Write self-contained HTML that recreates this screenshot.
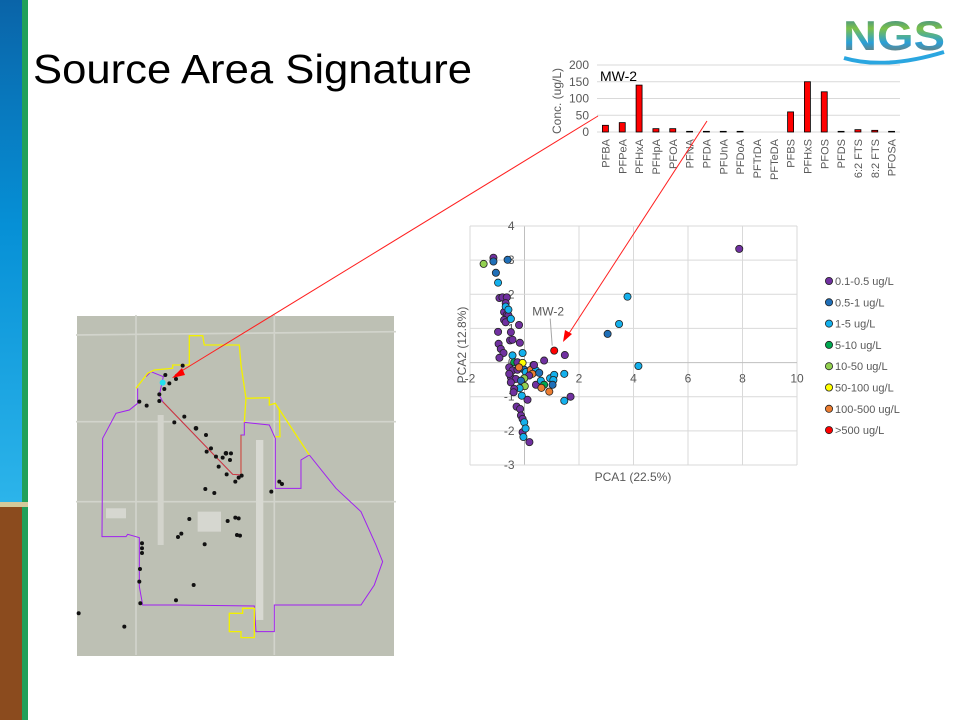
<!DOCTYPE html>
<html><head><meta charset="utf-8">
<style>
body{margin:0;width:960px;height:720px;overflow:hidden;background:#fff;font-family:"Liberation Sans",sans-serif}
svg{position:absolute;left:0;top:0}
</style></head>
<body>
<svg width="960" height="720" viewBox="0 0 960 720">
<defs>
<linearGradient id="blueg" x1="0" y1="0" x2="0" y2="1">
<stop offset="0" stop-color="#0a64a8"/><stop offset="0.45" stop-color="#0690d6"/><stop offset="1" stop-color="#2cb4ea"/>
</linearGradient>
<linearGradient id="ngsg" x1="0" y1="0" x2="0" y2="1">
<stop offset="0" stop-color="#1e6fb5"/><stop offset="0.35" stop-color="#7cc04a"/><stop offset="0.65" stop-color="#2a9fd8"/><stop offset="1" stop-color="#9a6a3a"/>
</linearGradient>
</defs>
<g>
<rect x="0" y="0" width="22" height="502" fill="url(#blueg)"/>
<rect x="0" y="502" width="28" height="5" fill="#d5c99a"/>
<rect x="0" y="507" width="22" height="213" fill="#8b4b1e"/>
<rect x="22" y="0" width="6" height="502" fill="#21a05a"/>
<rect x="22" y="507" width="6" height="213" fill="#21a05a"/>
</g>
<text x="33" y="83" font-size="41" textLength="439" lengthAdjust="spacingAndGlyphs" fill="#000">Source Area Signature</text>
<g>
<text x="843" y="50" font-size="42" font-weight="bold" fill="url(#ngsg)" textLength="102" lengthAdjust="spacingAndGlyphs">NGS</text>
<path d="M844 58 Q885 70 944 52" stroke="#2aa6e0" stroke-width="4" fill="none"/>
</g>

<g id="bar"></g>

<g>
<rect x="77" y="316" width="317" height="340" fill="#bdc0b4"/>
<g transform="translate(76,315) scale(0.3333)" fill="none">
<path d="M0 60 L960 50 M0 320 L960 320 M0 560 L960 560 M180 0 L180 1020 M595 0 L595 1020" stroke="#d2d4cc" stroke-width="5"/>
<rect x="540" y="375" width="22" height="540" fill="#d8d9d2"/>
<rect x="245" y="300" width="18" height="390" fill="#d3d4cc"/>
<rect x="365" y="590" width="70" height="60" fill="#d6d7d0"/>
<rect x="90" y="580" width="60" height="30" fill="#d6d7d0"/>
<path d="M185 220 L185 265 L160 285 L120 295 L80 370 L78 665 L150 665 L155 658 L190 668 L190 815 L200 870 L300 870 L535 873 L540 950 L595 950 L595 870 L855 870 L895 810 L920 740 L900 690 L855 590 L780 520 L700 420 L675 435 L675 520 L598 520 L598 370 L580 330 L505 322 L505 360 L495 360 L495 480 L470 478 L260 260 L250 240 L262 185 L225 170 L210 185" stroke="#a020f0" stroke-width="3"/>
<path d="M495 360 L495 480 L470 478 L260 260" stroke="#d04030" stroke-width="3"/>
<path d="M180 220 L215 175 L235 165 L290 160 L290 150 L340 150 L340 62 L380 62 L385 90 L490 90 L495 150 L510 250 L580 248 L580 270 L598 265 L610 285 L612 365 L598 365 M598 265 L700 420 M510 250 L505 322" stroke="#f2f000" stroke-width="4"/>
<path d="M460 895 L500 895 L500 880 L535 880 L535 968 L495 968 L495 950 L460 950 Z" stroke="#f2f000" stroke-width="4"/>
<g fill="#111">
<circle cx="320" cy="152" r="6"/><circle cx="268" cy="180" r="6"/><circle cx="280" cy="205" r="6"/><circle cx="265" cy="222" r="6"/><circle cx="250" cy="238" r="6"/><circle cx="250" cy="258" r="6"/><circle cx="190" cy="260" r="6"/><circle cx="212" cy="272" r="6"/><circle cx="300" cy="192" r="6"/><circle cx="325" cy="305" r="6"/><circle cx="295" cy="322" r="6"/><circle cx="360" cy="340" r="7"/><circle cx="390" cy="360" r="6"/><circle cx="405" cy="400" r="6"/><circle cx="392" cy="410" r="6"/><circle cx="420" cy="425" r="6"/><circle cx="440" cy="428" r="6"/><circle cx="450" cy="415" r="7"/><circle cx="465" cy="415" r="6"/><circle cx="462" cy="435" r="6"/><circle cx="428" cy="455" r="6"/><circle cx="452" cy="478" r="6"/><circle cx="488" cy="488" r="6"/><circle cx="497" cy="482" r="6"/><circle cx="478" cy="500" r="6"/><circle cx="388" cy="522" r="6"/><circle cx="415" cy="534" r="6"/><circle cx="586" cy="530" r="6"/><circle cx="610" cy="500" r="6"/><circle cx="618" cy="507" r="6"/><circle cx="340" cy="612" r="6"/><circle cx="455" cy="618" r="6"/><circle cx="478" cy="608" r="6"/><circle cx="488" cy="610" r="6"/><circle cx="483" cy="660" r="6"/><circle cx="492" cy="662" r="6"/><circle cx="316" cy="656" r="6"/><circle cx="306" cy="666" r="6"/><circle cx="386" cy="688" r="6"/><circle cx="198" cy="685" r="6"/><circle cx="198" cy="700" r="6"/><circle cx="198" cy="714" r="6"/><circle cx="192" cy="762" r="6"/><circle cx="190" cy="800" r="6"/><circle cx="353" cy="810" r="6"/><circle cx="300" cy="856" r="6"/><circle cx="193" cy="865" r="6"/><circle cx="8" cy="895" r="6"/><circle cx="145" cy="935" r="6"/>
</g>
<circle cx="260" cy="203" r="9" fill="#22e0f0"/>
</g>
</g>

<g id="scatter"></g>

<g>
<line x1="598" y1="116" x2="175" y2="375" stroke="#ff2020" stroke-width="1"/>
<polygon points="172,378 182,368 185,375" fill="#ff0000"/>
<line x1="707" y1="121" x2="566" y2="338" stroke="#ff2020" stroke-width="1"/>
<polygon points="563,342 565,330 572,334" fill="#ff0000"/>
</g>
</svg>
<script>
var NS='http://www.w3.org/2000/svg';
function mk(p,tag,attrs,txt){var e=document.createElementNS(NS,tag);for(var k in attrs)e.setAttribute(k,attrs[k]);if(txt!=null)e.textContent=txt;p.appendChild(e);return e;}

/* ---- bar chart data ---- */
var barCategories=['PFBA','PFPeA','PFHxA','PFHpA','PFOA','PFNA','PFDA','PFUnA','PFDoA','PFTrDA','PFTeDA','PFBS','PFHxS','PFOS','PFDS','6:2 FTS','8:2 FTS','PFOSA'];
var barValues=[20,28,140,10,10,2,2,2,2,0,0,60,150,120,2,7,5,2];
var barTicks=[0,50,100,150,200];

/* ---- scatter data ---- */
var binLabels=['0.1-0.5 ug/L','0.5-1 ug/L','1-5 ug/L','5-10 ug/L','10-50 ug/L','50-100 ug/L','100-500 ug/L','>500 ug/L'];
var binColors=['#7030a0','#1f6fb8','#14b0ec','#00a850','#92d050','#ffff00','#ed7d31','#ff0000'];
var xTicks=[-2,0,2,4,6,8,10];
var yTicks=[-3,-2,-1,0,1,2,3,4];
var pcaX=[7.88,-1.14,-1.14,-0.62,-1.5,-1.05,-0.97,3.78,3.47,3.05,4.18,1.48,1.46,1.46,1.69,0.72,0.33,
-0.92,-0.81,-0.65,-0.69,-0.75,-0.65,-0.59,-0.75,-0.69,-0.97,-0.50,-0.53,-0.44,-0.20,-0.17,-0.95,-0.87,-0.77,-0.92,-0.29,-0.16,-0.13,-0.07,-0.07,0.18,0.11,
-0.69,-0.59,-0.50,-0.01,-0.04,0.04,
-0.44,-0.07,-0.38,-0.26,-0.07,-0.56,-0.44,-0.26,-0.01,0.05,-0.20,0.23,0.42,0.29,0.54,0.17,-0.01,-0.50,-0.32,-0.13,0.42,0.60,0.72,0.62,0.91,0.94,1.09,1.06,1.03,0.01,-0.18,-0.38,-0.10,-0.40,-0.56,-0.50,0.35,1.09];
var pcaY=[3.33,3.07,2.96,3.01,2.89,2.63,2.34,1.93,1.13,0.84,-0.10,0.22,-0.33,-1.12,-1.00,0.06,-0.07,
1.89,1.91,1.91,1.74,1.48,1.40,1.38,1.25,1.18,0.90,0.89,0.65,0.67,1.10,0.58,0.55,0.40,0.28,0.14,-1.29,-1.36,-1.55,-1.65,-2.04,-2.33,-1.09,
1.64,1.55,1.28,-1.75,-2.18,-1.93,
0.21,0.28,0.01,0.01,-0.01,-0.14,-0.23,-0.21,-0.21,-0.28,-0.14,-0.21,-0.23,-0.33,-0.30,-0.38,-0.46,-0.43,-0.48,-0.53,-0.65,-0.53,-0.65,-0.74,-0.85,-0.46,-0.36,-0.51,-0.65,-0.69,-0.75,-0.77,-0.97,-0.87,-0.33,-0.58,-0.07,0.35];
var pcaBin=[0,0,1,1,4,1,2,2,2,1,2,0,2,2,0,0,0,
0,0,0,0,0,0,0,0,0,0,0,0,0,0,0,0,0,0,0,0,0,0,0,0,0,0,
2,2,2,2,2,2,
2,2,3,0,5,0,0,0,1,2,6,6,2,6,1,0,4,0,0,1,0,2,3,6,6,2,2,2,1,4,2,0,2,0,0,0,0,7];

/* ---- bar chart ---- */
(function(){
var g=document.getElementById('bar');
var L=597,R=900,T=65,B=132,ymax=200;
function yS(v){return B-(v/ymax)*(B-T);}
var n=barCategories.length,step=(R-L)/n;
function xS(i){return L+step*(i+0.5);}
barTicks.forEach(function(t){
 var l=mk(g,'line',{x1:L,x2:R,y1:yS(t),y2:yS(t),stroke:'#d9d9d9','stroke-width':1});
 
 
 var tx=mk(g,'text',{x:589,y:yS(t)+4,'text-anchor':'end','font-size':12,fill:'#595959'},t);
 
 
});
barValues.forEach(function(v,i){
 var r=mk(g,'rect',{x:xS(i)-3,y:yS(v),width:6,height:Math.max(0,B-yS(v)),fill:'#ff0000',stroke:'#000','stroke-width':0.8});
 
 
 var tx=mk(g,'text',{x:0,y:0,'text-anchor':'end','font-size':11,fill:'#595959',transform:'translate('+(xS(i)+4)+',139) rotate(-90)'},barCategories[i]);
 
 
});
var yt=mk(g,'text',{x:0,y:0,'text-anchor':'middle','font-size':12,fill:'#595959',transform:'translate(561,101) rotate(-90)'},'Conc.  (ug/L)');


var tt=mk(g,'text',{x:600,y:81,'font-size':14,fill:'#000'},'MW-2');


})();

/* ---- scatter ---- */
(function(){
var g=document.getElementById('scatter');
var L=470,R=797,T=226,B=465,x0=-2,x1=10,y0=-3,y1=4;
function xS(v){return L+(v-x0)/(x1-x0)*(R-L);}
function yS(v){return B-(v-y0)/(y1-y0)*(B-T);}
xTicks.forEach(function(t){
 var l=mk(g,'line',{x1:xS(t),x2:xS(t),y1:T,y2:B,stroke:t===0?'#bfbfbf':'#d9d9d9','stroke-width':1});
 
 
});
yTicks.forEach(function(t){
 var l=mk(g,'line',{x1:L,x2:R,y1:yS(t),y2:yS(t),stroke:t===0?'#bfbfbf':'#d9d9d9','stroke-width':1});
 
 
});
xTicks.forEach(function(t){
 var tx=mk(g,'text',{x:xS(t),y:yS(0)+20,'text-anchor':'middle','font-size':12,fill:'#595959'},t);
 
 
});
yTicks.forEach(function(t){
 var tx=mk(g,'text',{x:xS(0)-10,y:yS(t)+4,'text-anchor':'end','font-size':12,fill:'#595959'},t);
 
 
});
var xt=mk(g,'text',{x:633,y:481,'text-anchor':'middle','font-size':12,fill:'#595959'},'PCA1 (22.5%)');


var ytt=mk(g,'text',{x:0,y:0,'text-anchor':'middle','font-size':12,fill:'#595959',transform:'translate(466,345) rotate(-90)'},'PCA2 (12.8%)');


pcaX.forEach(function(v,i){
 var c=mk(g,'circle',{cx:xS(v),cy:yS(pcaY[i]),r:3.6,fill:binColors[pcaBin[i]],stroke:'#222','stroke-width':0.8});
 
 
});
var mi=pcaBin.indexOf(7);
var cl=mk(g,'line',{x1:xS(pcaX[mi])-2,y1:yS(pcaY[mi])-5,x2:xS(pcaX[mi])-4,y2:yS(pcaY[mi])-32,stroke:'#a6a6a6','stroke-width':1});


var lab=mk(g,'text',{x:xS(pcaX[mi])-6,y:yS(pcaY[mi])-35,'text-anchor':'middle','font-size':12,fill:'#595959'},'MW-2');


binLabels.forEach(function(s,i){
 var y=281+i*21.3;
 var m=mk(g,'circle',{cx:829,cy:y,r:3.6,fill:binColors[i],stroke:'#222','stroke-width':0.8});
 
 
 var t=mk(g,'text',{x:835,y:y+4,'font-size':11,fill:'#595959'},s);
 
 
});
})();
</script>
</body></html>
